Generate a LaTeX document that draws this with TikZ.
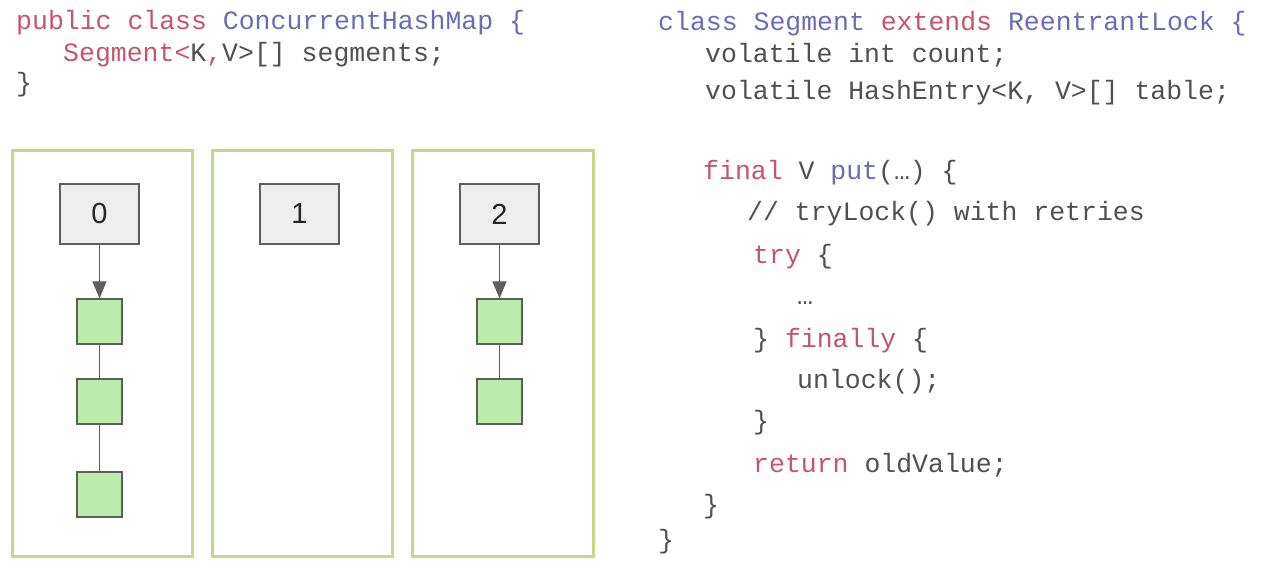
\documentclass[tikz,border=0pt]{standalone}
\usepackage{fontspec}
\setmainfont{Liberation Sans}
\setmonofont{Liberation Mono}
\usetikzlibrary{positioning,arrows.meta}

\definecolor{kwred}{HTML}{C65470}
\definecolor{typeblue}{HTML}{6A6CB4}
\definecolor{codegrey}{HTML}{505050}
\definecolor{panelgreen}{HTML}{C4DA86}
\definecolor{entrygreen}{HTML}{BBEDAA}
\definecolor{slotgrey}{HTML}{EEEEEE}
\definecolor{edgegrey}{HTML}{5E5E5E}

\newcommand{\kw}[1]{\textcolor{kwred}{#1}}
\newcommand{\ty}[1]{\textcolor{typeblue}{#1}}

\begin{document}
\begin{tikzpicture}[
  x = 1pt, y = -1pt,
  code/.style = {anchor=base west, inner sep=0pt, text=codegrey,
    font=\ttfamily\fontsize{26.5}{30}\selectfont},
  segpanel/.style = {draw=panelgreen, line width=3pt},
  slot/.style = {draw=edgegrey, fill=slotgrey, line width=1.2pt,
    minimum width=79pt, minimum height=60pt, inner sep=0pt,
    font=\fontsize{29}{32}\selectfont, text=black!85},
  entry/.style = {draw=edgegrey, fill=entrygreen, line width=1.2pt,
    minimum size=45pt, inner sep=0pt},
  link/.style = {draw=edgegrey, line width=1.2pt},
  ptr/.style = {link, -{Triangle[length=17pt,width=14pt,fill=edgegrey]}},
  ]
  \useasboundingbox (0,0) rectangle (1269,577);

  % ConcurrentHashMap
  \node[code] (chm) at (16,30) {\kw{public class} \ty{ConcurrentHashMap \{}};
  \node[code] (segs) at (63,62) {\kw{Segment<}K\kw{,}V>[] segments;};
  \node[code] (chmend) at (16,92) {\}};

  % segments
  \draw[segpanel] (12,151) rectangle (192,556);
  \draw[segpanel] (212,151) rectangle (392,556);
  \draw[segpanel] (412,151) rectangle (593,556);

  \node[slot] (s0) at (99.5,214) {0};
  \node[slot] (s1) at (299.5,214) {1};
  \node[slot] (s2) at (499.5,214) {2};

  \node[entry] (e01) at (99.5,321.5) {};
  \node[entry] (e02) at (99.5,401.5) {};
  \node[entry] (e03) at (99.5,494.5) {};
  \node[entry] (e21) at (499.5,321.5) {};
  \node[entry] (e22) at (499.5,401.5) {};

  \draw[ptr] (s0) -- (e01);
  \draw[ptr] (s2) -- (e21);
  \draw[link] (e01) -- (e02) -- (e03);
  \draw[link] (e21) -- (e22);

  % Segment
  \node[code] (seg) at (658,31) {\ty{class Segment} \kw{extends} \ty{ReentrantLock \{}};
  \node[code] (cnt) at (705,63) {volatile int count;};
  \node[code] (tbl) at (705,100) {volatile HashEntry<K, V>[] table;};
  \node[code] (put) at (703,180) {\kw{final} V \ty{put}(…) \{};
  \node[code] (cmt) at (747,221) {// tryLock() with retries};
  \node[code] (try) at (753,264) {\kw{try} \{};
  \node[code] (dots) at (797,305) {…};
  \node[code] (fin) at (753,347) {\} \kw{finally} \{};
  \node[code] (unl) at (797,388) {unlock();};
  \node[code] (finend) at (753,429) {\}};
  \node[code] (ret) at (753,472) {\kw{return} oldValue;};
  \node[code] (putend) at (703,513) {\}};
  \node[code] (segend) at (658,548) {\}};
\end{tikzpicture}
\end{document}
